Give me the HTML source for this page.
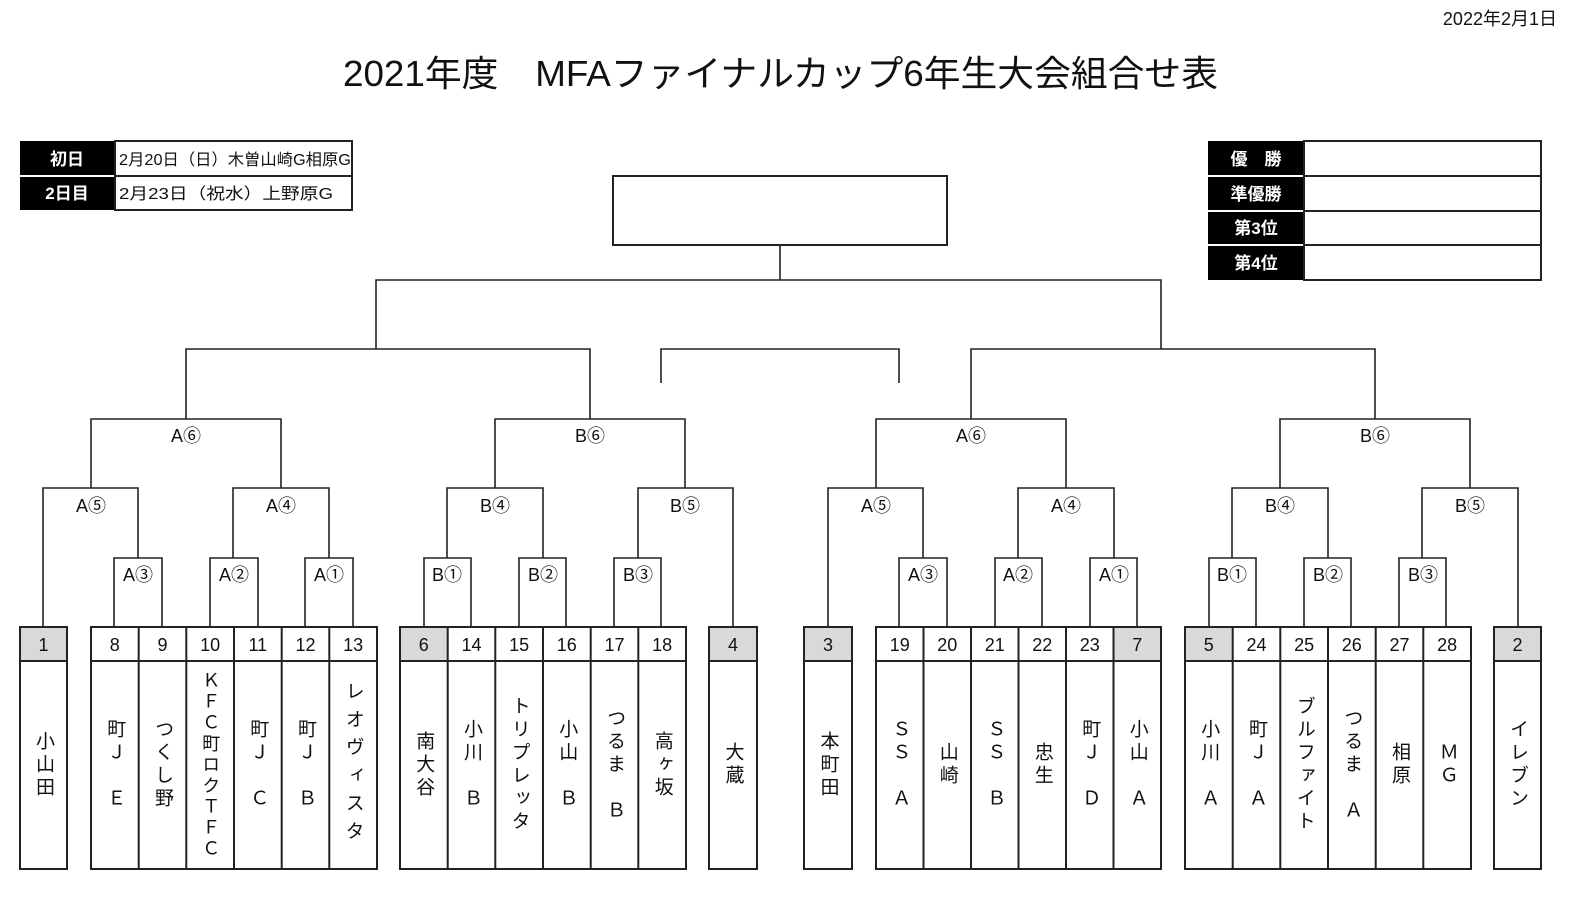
<!DOCTYPE html>
<html><head><meta charset="utf-8">
<style>
html,body{margin:0;padding:0;overflow:hidden;width:1583px;height:897px;}
body{background:#fff;position:relative;font-family:"Liberation Sans","Noto Sans CJK JP",sans-serif;}
svg{position:absolute;left:0;top:0;display:block;}
.n{position:absolute;top:661px;height:208px;width:44px;display:flex;align-items:center;justify-content:center;}
.n span{writing-mode:vertical-rl;text-orientation:upright;font-size:19px;letter-spacing:4px;color:#111;line-height:1;}
</style></head><body>
<svg width="1583" height="897" viewBox="0 0 1583 897" font-family="Liberation Sans, Noto Sans CJK JP, sans-serif">
<text x="1557" y="25" font-size="18" text-anchor="end" fill="#111">2022年2月1日</text>
<text x="343" y="86" font-size="36" textLength="875" lengthAdjust="spacingAndGlyphs" fill="#111">2021年度　MFAファイナルカップ6年生大会組合せ表</text>
<rect x="20" y="141" width="95" height="69" fill="#000"/>
<line x1="20" y1="176" x2="115" y2="176" stroke="#fff" stroke-width="2"/>
<rect x="115" y="141" width="237" height="69" fill="none" stroke="#222" stroke-width="2"/>
<line x1="115" y1="176" x2="352" y2="176" stroke="#222" stroke-width="2"/>
<text x="67" y="165" font-size="17" font-weight="bold" fill="#fff" text-anchor="middle">初日</text>
<text x="67" y="199" font-size="17" font-weight="bold" fill="#fff" text-anchor="middle">2日目</text>
<text x="119" y="165" font-size="16" fill="#111" textLength="232" lengthAdjust="spacingAndGlyphs">2月20日（日）木曽山崎G相原G</text>
<text x="119" y="199" font-size="16" fill="#111" textLength="214" lengthAdjust="spacingAndGlyphs">2月23日（祝水）上野原G</text>
<rect x="1208" y="141" width="96" height="139" fill="#000"/>
<g stroke="#fff" stroke-width="2"><line x1="1208" y1="176" x2="1304" y2="176"/><line x1="1208" y1="211" x2="1304" y2="211"/><line x1="1208" y1="245" x2="1304" y2="245"/></g>
<rect x="1304" y="141" width="237" height="139" fill="none" stroke="#222" stroke-width="2"/>
<g stroke="#222" stroke-width="2"><line x1="1304" y1="176" x2="1541" y2="176"/><line x1="1304" y1="211" x2="1541" y2="211"/><line x1="1304" y1="245" x2="1541" y2="245"/></g>
<g font-size="17" font-weight="bold" fill="#fff" text-anchor="middle">
<text x="1256" y="165">優　勝</text><text x="1256" y="200">準優勝</text><text x="1256" y="234">第3位</text><text x="1256" y="269">第4位</text></g>
<rect x="613" y="176" width="334" height="69" fill="none" stroke="#222" stroke-width="2"/>
<g stroke="#222" stroke-width="1.6" fill="none">
<path d="M780 245V280M376 349V280H1161V349"/>
<path d="M186 419V349H590V419M971 419V349H1375V419"/>
<path d="M661 383V349H899V383"/>
<path d="M91 488V419H281V488M495 488V419H685V488M876 488V419H1066V488M1280 488V419H1470V488"/>
<path d="M43 627V488H138V558M233 558V488H329V558M447 558V488H543V558M638 558V488H733V627"/>
<path d="M828 627V488H923V558M1018 558V488H1114V558M1232 558V488H1328V558M1422 558V488H1518V627"/>
<path d="M114 627V558H162V627M210 627V558H258V627M305 627V558H353V627M424 627V558H471V627M519 627V558H566V627M614 627V558H661V627"/>
<path d="M899 627V558H947V627M995 627V558H1042V627M1090 627V558H1137V627M1209 627V558H1256V627M1304 627V558H1351V627M1399 627V558H1446V627"/>
</g>
<g font-size="18" fill="#111" text-anchor="middle">
<text x="186" y="442">A⑥</text><text x="590" y="442">B⑥</text><text x="971" y="442">A⑥</text><text x="1375" y="442">B⑥</text>
<text x="91" y="512">A⑤</text><text x="281" y="512">A④</text><text x="495" y="512">B④</text><text x="685" y="512">B⑤</text>
<text x="876" y="512">A⑤</text><text x="1066" y="512">A④</text><text x="1280" y="512">B④</text><text x="1470" y="512">B⑤</text>
<text x="138" y="581">A③</text><text x="234" y="581">A②</text><text x="329" y="581">A①</text><text x="447" y="581">B①</text><text x="543" y="581">B②</text><text x="638" y="581">B③</text>
<text x="923" y="581">A③</text><text x="1018" y="581">A②</text><text x="1114" y="581">A①</text><text x="1232" y="581">B①</text><text x="1328" y="581">B②</text><text x="1423" y="581">B③</text>
</g>
<g fill="#d9d9d9">
<rect x="20" y="627" width="47" height="34"/><rect x="400" y="627" width="47.7" height="34"/><rect x="709" y="627" width="48" height="34"/><rect x="804" y="627" width="48" height="34"/><rect x="1113.5" y="627" width="47.5" height="34"/><rect x="1185" y="627" width="47.7" height="34"/><rect x="1494" y="627" width="47" height="34"/>
</g>
<g stroke="#222" stroke-width="2" fill="none">
<rect x="20" y="627" width="47" height="242"/><line x1="20" y1="661" x2="67" y2="661"/>
<rect x="709" y="627" width="48" height="242"/><line x1="709" y1="661" x2="757" y2="661"/>
<rect x="804" y="627" width="48" height="242"/><line x1="804" y1="661" x2="852" y2="661"/>
<rect x="1494" y="627" width="47" height="242"/><line x1="1494" y1="661" x2="1541" y2="661"/>
<rect x="91" y="627" width="286" height="242"/><line x1="91" y1="661" x2="377" y2="661"/>
<path d="M138.7 627V869M186.3 627V869M234 627V869M281.7 627V869M329.3 627V869"/>
<rect x="400" y="627" width="286" height="242"/><line x1="400" y1="661" x2="686" y2="661"/>
<path d="M447.7 627V869M495.3 627V869M543 627V869M590.7 627V869M638.3 627V869"/>
<rect x="876" y="627" width="285" height="242"/><line x1="876" y1="661" x2="1161" y2="661"/>
<path d="M923.5 627V869M971 627V869M1018.5 627V869M1066 627V869M1113.5 627V869"/>
<rect x="1185" y="627" width="286" height="242"/><line x1="1185" y1="661" x2="1471" y2="661"/>
<path d="M1232.7 627V869M1280.3 627V869M1328 627V869M1375.7 627V869M1423.3 627V869"/>
</g>
<g font-size="18" fill="#111" text-anchor="middle">
<text x="43.5" y="651">1</text>
<text x="114.8" y="651">8</text><text x="162.5" y="651">9</text><text x="210.2" y="651">10</text><text x="257.8" y="651">11</text><text x="305.5" y="651">12</text><text x="353.2" y="651">13</text>
<text x="423.8" y="651">6</text><text x="471.5" y="651">14</text><text x="519.2" y="651">15</text><text x="566.8" y="651">16</text><text x="614.5" y="651">17</text><text x="662.2" y="651">18</text>
<text x="733" y="651">4</text><text x="828" y="651">3</text>
<text x="899.8" y="651">19</text><text x="947.3" y="651">20</text><text x="994.8" y="651">21</text><text x="1042.3" y="651">22</text><text x="1089.8" y="651">23</text><text x="1137.3" y="651">7</text>
<text x="1208.8" y="651">5</text><text x="1256.5" y="651">24</text><text x="1304.2" y="651">25</text><text x="1351.8" y="651">26</text><text x="1399.5" y="651">27</text><text x="1447.2" y="651">28</text>
<text x="1517.5" y="651">2</text>
</g>
</svg>
<div class="n" style="left:21.5px"><span>小山田</span></div>
<div class="n" style="left:92.8px"><span>町Ｊ　Ｅ</span></div>
<div class="n" style="left:140.5px"><span>つくし野</span></div>
<div class="n" style="left:188.2px"><span style="letter-spacing:3px;font-size:18px">ＫＦＣ町ロクＴＦＣ</span></div>
<div class="n" style="left:235.8px"><span>町Ｊ　Ｃ</span></div>
<div class="n" style="left:283.5px"><span>町Ｊ　Ｂ</span></div>
<div class="n" style="left:331.2px"><span style="letter-spacing:9px">レオヴィスタ</span></div>
<div class="n" style="left:401.8px"><span>南大谷</span></div>
<div class="n" style="left:449.5px"><span>小川　Ｂ</span></div>
<div class="n" style="left:497.2px"><span>トリプレッタ</span></div>
<div class="n" style="left:544.8px"><span>小山　Ｂ</span></div>
<div class="n" style="left:592.5px"><span>つるま　Ｂ</span></div>
<div class="n" style="left:640.2px"><span>高ヶ坂</span></div>
<div class="n" style="left:711px"><span>大蔵</span></div>
<div class="n" style="left:806px"><span>本町田</span></div>
<div class="n" style="left:877.8px"><span>ＳＳ　Ａ</span></div>
<div class="n" style="left:925.3px"><span>山崎</span></div>
<div class="n" style="left:972.8px"><span>ＳＳ　Ｂ</span></div>
<div class="n" style="left:1020.3px"><span>忠生</span></div>
<div class="n" style="left:1067.8px"><span>町Ｊ　Ｄ</span></div>
<div class="n" style="left:1115.3px"><span>小山　Ａ</span></div>
<div class="n" style="left:1186.8px"><span>小川　Ａ</span></div>
<div class="n" style="left:1234.5px"><span>町Ｊ　Ａ</span></div>
<div class="n" style="left:1282.2px"><span>ブルファイト</span></div>
<div class="n" style="left:1329.8px"><span>つるま　Ａ</span></div>
<div class="n" style="left:1377.5px"><span>相原</span></div>
<div class="n" style="left:1425.2px"><span>ＭＧ</span></div>
<div class="n" style="left:1495.5px"><span>イレブン</span></div>
</body></html>
